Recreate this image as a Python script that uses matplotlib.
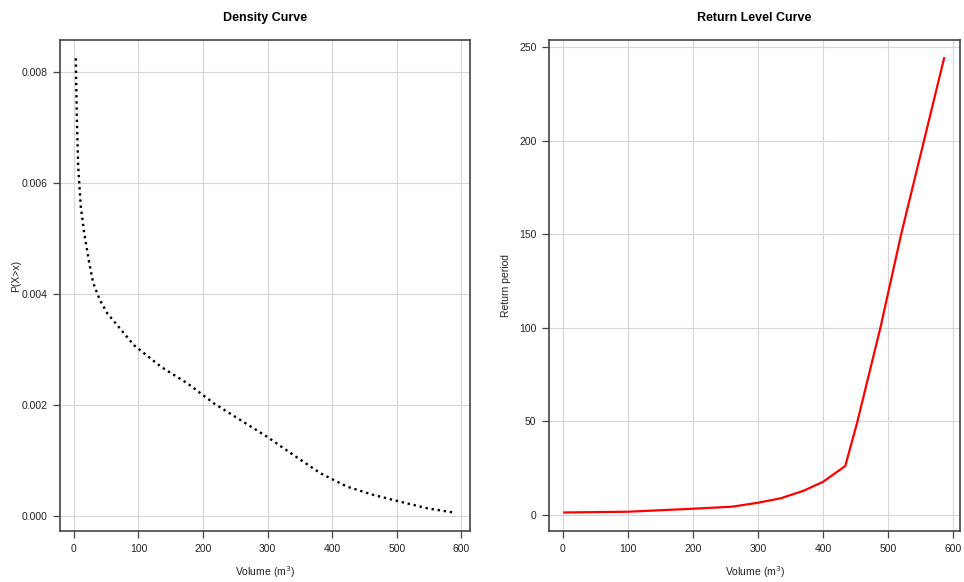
import matplotlib.pyplot as plt

plt.rcParams['font.family'] = ['Liberation Sans', 'DejaVu Sans']

# density curve
vol_d = [3, 4.6, 6.7, 10.8, 16, 24, 30, 40, 52, 70, 93, 135, 176, 217, 258, 299,
         340, 382, 423, 464, 505, 547, 590]
dens = [0.00825, 0.0072, 0.0063, 0.00557, 0.0051, 0.00455, 0.0042, 0.0039, 0.00365,
        0.0034, 0.00308, 0.00269, 0.00239, 0.00203, 0.00173, 0.00143, 0.0011,
        0.00077, 0.00053, 0.00038, 0.00026, 0.00014, 0.00006]

# return level curve
vol_r = [2, 100, 200, 260, 300, 335, 370, 400, 434, 452, 488, 520, 586]
ret_period = [1.4, 1.8, 3.4, 4.5, 6.6, 9.0, 13.0, 17.8, 26.2, 49, 100, 150, 244]

fig = plt.figure(figsize=(9.64, 5.82), dpi=100)
ax1 = fig.add_axes([0.0622, 0.0876, 0.4254, 0.8437])
ax2 = fig.add_axes([0.5695, 0.0876, 0.4264, 0.8437])

for ax in (ax1, ax2):
    ax.grid(True, color='#d6d6d6', linewidth=0.8)
    ax.set_axisbelow(True)
    for s in ax.spines.values():
        s.set_color('#444444')
        s.set_linewidth(1.2)
    ax.tick_params(direction='out', length=5, width=0.9, color='#444444',
                   labelsize=7.5, labelcolor='#222222', pad=4)
    ax.set_xticks([0, 100, 200, 300, 400, 500, 600])

ax1.plot(vol_d, dens, color='black', linewidth=1.7, linestyle=(0, (1, 1.6)))
ax1.set_yticks([0.000, 0.002, 0.004, 0.006, 0.008])
ax1.set_yticklabels(['0.000', '0.002', '0.004', '0.006', '0.008'])
ax1.set_xlim(-21.5, 613.5)
ax1.set_ylim(-0.00027, 0.00858)
ax1.set_title('Density Curve', fontsize=9, fontweight='bold', pad=14)
ax1.set_xlabel(r'Volume (m$^3$)', fontsize=7.5, color='#222222', labelpad=8)
ax1.set_ylabel('P(X>x)', fontsize=7.5, color='#222222')
ax1.yaxis.set_label_coords(-0.095, 0.52)

ax2.plot(vol_r, ret_period, color='red', linewidth=1.6)
ax2.set_yticks([0, 50, 100, 150, 200, 250])
ax2.set_xlim(-21.5, 610.5)
ax2.set_ylim(-8.5, 253.7)
ax2.set_title('Return Level Curve', fontsize=9, fontweight='bold', pad=14)
ax2.set_xlabel(r'Volume (m$^3$)', fontsize=7.5, color='#222222', labelpad=8)
ax2.set_ylabel('Return period', fontsize=7.5, color='#222222')
ax2.yaxis.set_label_coords(-0.092, 0.5)

plt.savefig('out.png', dpi=100)
